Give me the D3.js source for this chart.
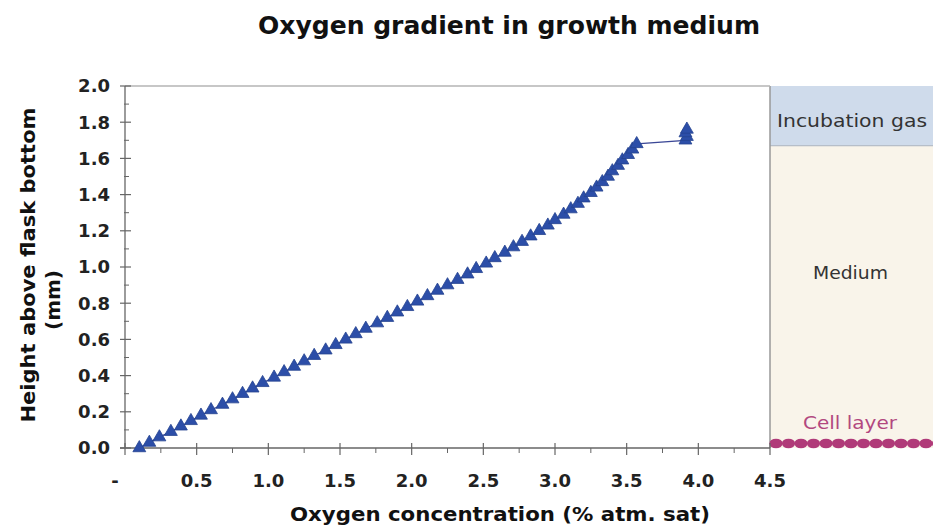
<!DOCTYPE html>
<html>
<head>
<meta charset="utf-8">
<script src="https://cdn.jsdelivr.net/npm/d3@7"></script>
<style>
  body { margin: 0; background: #fff; }
  svg text { font-family: "DejaVu Sans", Verdana, sans-serif; }
</style>
</head>
<body>
<svg id="chart" width="933" height="529"></svg>
<script>
// heights above flask bottom (mm) and oxygen (% atm. sat)
var heights = [0.00, 0.03, 0.06, 0.09, 0.12, 0.15, 0.18, 0.21, 0.24, 0.27,
  0.30, 0.33, 0.36, 0.39, 0.42, 0.45, 0.48, 0.51, 0.54, 0.57,
  0.60, 0.63, 0.66, 0.69, 0.72, 0.75, 0.78, 0.81, 0.84, 0.87,
  0.90, 0.93, 0.96, 0.99, 1.02, 1.05, 1.08, 1.11, 1.14, 1.17,
  1.20, 1.23, 1.26, 1.29, 1.32, 1.35, 1.38, 1.41, 1.44, 1.47,
  1.50, 1.53, 1.56, 1.59, 1.62, 1.65, 1.68,
  1.70, 1.72, 1.74, 1.76];
var oxygen = [0.10, 0.17, 0.24, 0.32, 0.39, 0.46, 0.53, 0.60, 0.68, 0.75,
  0.82, 0.89, 0.96, 1.04, 1.11, 1.18, 1.25, 1.32, 1.40, 1.47,
  1.54, 1.61, 1.68, 1.76, 1.83, 1.90, 1.97, 2.04, 2.11, 2.18,
  2.25, 2.32, 2.39, 2.45, 2.52, 2.58, 2.65, 2.71, 2.77, 2.83,
  2.89, 2.95, 3.00, 3.06, 3.11, 3.16, 3.20, 3.25, 3.29, 3.33,
  3.37, 3.40, 3.44, 3.47, 3.51, 3.54, 3.57,
  3.91, 3.92, 3.91, 3.92];

var xTicks = [0, 0.5, 1.0, 1.5, 2.0, 2.5, 3.0, 3.5, 4.0, 4.5];
var xMinor = [0.25, 0.75, 1.25, 1.75, 2.25, 2.75, 3.25, 3.75, 4.25];
var yTicks = [0, 0.2, 0.4, 0.6, 0.8, 1.0, 1.2, 1.4, 1.6, 1.8, 2.0];
var yMinor = [0.1, 0.3, 0.5, 0.7, 0.9, 1.1, 1.3, 1.5, 1.7, 1.9];

var mediumTop = 1.67; // surface of the medium (mm)
var zones = ["Incubation gas", "Medium", "Cell layer"];

var W = 933, H = 529;
var svg = d3.select("#chart");

var x = d3.scaleLinear().domain([0, 4.5]).range([125, 770]);
var y = d3.scaleLinear().domain([0, 2]).range([448, 86]);

svg.append("rect").attr("width", W).attr("height", H).attr("fill", "#fff");

//============ right hand panel ============
var px0 = x(4.5);
svg.append("rect")
  .attr("x", px0).attr("y", y(2)).attr("width", W - px0).attr("height", y(mediumTop) - y(2))
  .attr("fill", "#cfdbeb");
svg.append("rect")
  .attr("x", px0).attr("y", y(mediumTop)).attr("width", W - px0).attr("height", y(0) - y(mediumTop))
  .attr("fill", "#f9f4ea");
svg.append("line")
  .attr("x1", px0).attr("x2", W).attr("y1", y(mediumTop)).attr("y2", y(mediumTop))
  .attr("stroke", "#a9b3bf").attr("stroke-width", 1);
svg.append("line")
  .attr("x1", px0).attr("x2", px0).attr("y1", y(2)).attr("y2", y(0))
  .attr("stroke", "#999").attr("stroke-width", 1.5);

// cells sitting on the bottom
svg.append("g").selectAll("ellipse")
  .data(d3.range(px0 + 6, W + 8, 12.5))
  .join("ellipse")
  .attr("cx", d => d).attr("cy", y(0) - 4.5).attr("rx", 6.6).attr("ry", 4.8)
  .attr("fill", "#b03a79");

svg.append("text").text(zones[0])
  .attr("x", 777).attr("y", 127).attr("font-size", 17).attr("fill", "#333")
  .attr("textLength", 150).attr("lengthAdjust", "spacingAndGlyphs");
svg.append("text").text(zones[1])
  .attr("x", 813).attr("y", 279).attr("font-size", 17).attr("fill", "#333")
  .attr("textLength", 75).attr("lengthAdjust", "spacingAndGlyphs");
svg.append("text").text(zones[2])
  .attr("x", 803).attr("y", 429).attr("font-size", 17).attr("fill", "#b2487f")
  .attr("textLength", 94).attr("lengthAdjust", "spacingAndGlyphs");

//============ axes ============
svg.append("line") // top border
  .attr("x1", x(0)).attr("x2", x(4.5)).attr("y1", y(2)).attr("y2", y(2))
  .attr("stroke", "#b5b5b5").attr("stroke-width", 1.5);
svg.append("line")
  .attr("x1", x(0)).attr("x2", x(0)).attr("y1", y(2)).attr("y2", y(0))
  .attr("stroke", "#666").attr("stroke-width", 1.3);
svg.append("line")
  .attr("x1", x(0) - 5).attr("x2", x(4.5)).attr("y1", y(0)).attr("y2", y(0))
  .attr("stroke", "#666").attr("stroke-width", 1.3);

var tickCol = "#666";
svg.append("g").selectAll("line").data(yTicks).join("line")
  .attr("x1", x(0) - 5).attr("x2", x(0) + 6)
  .attr("y1", d => y(d)).attr("y2", d => y(d))
  .attr("stroke", tickCol).attr("stroke-width", 1.2);
svg.append("g").selectAll("line").data(yMinor).join("line")
  .attr("x1", x(0) - 1).attr("x2", x(0) + 4)
  .attr("y1", d => y(d)).attr("y2", d => y(d))
  .attr("stroke", tickCol).attr("stroke-width", 1);
svg.append("g").selectAll("line").data(xTicks).join("line")
  .attr("x1", d => x(d)).attr("x2", d => x(d))
  .attr("y1", y(0) - 5).attr("y2", y(0) + 7)
  .attr("stroke", tickCol).attr("stroke-width", 1.2);
svg.append("g").selectAll("line").data(xMinor).join("line")
  .attr("x1", d => x(d)).attr("x2", d => x(d))
  .attr("y1", y(0)).attr("y2", y(0) + 5)
  .attr("stroke", tickCol).attr("stroke-width", 1);

svg.append("g").selectAll("text").data(yTicks).join("text")
  .attr("x", x(0) - 15).attr("y", d => y(d)).attr("dy", "0.36em")
  .attr("text-anchor", "end").attr("font-size", 18).attr("font-weight", "bold").attr("fill", "#222")
  .text(d => d3.format(".1f")(d));
svg.append("g").selectAll("text").data(xTicks).join("text")
  .attr("x", d => d == 0 ? x(d) - 10 : x(d)).attr("y", 487)
  .attr("text-anchor", "middle").attr("font-size", 18).attr("font-weight", "bold").attr("fill", "#222")
  .text(d => d == 0 ? "-" : d3.format(".1f")(d));

//============ titles ============
svg.append("text").text("Oxygen gradient in growth medium")
  .attr("x", 258).attr("y", 34).attr("font-size", 24).attr("font-weight", "bold").attr("fill", "#111")
  .attr("textLength", 502).attr("lengthAdjust", "spacingAndGlyphs");
svg.append("text").text("Oxygen concentration (% atm. sat)")
  .attr("x", 290).attr("y", 521).attr("font-size", 20).attr("font-weight", "bold").attr("fill", "#111")
  .attr("textLength", 420).attr("lengthAdjust", "spacingAndGlyphs");
svg.append("text").text("Height above flask bottom")
  .attr("transform", "translate(35,265) rotate(-90)")
  .attr("text-anchor", "middle").attr("font-size", 20).attr("font-weight", "bold").attr("fill", "#111")
  .attr("textLength", 315).attr("lengthAdjust", "spacingAndGlyphs");
svg.append("text").text("(mm)")
  .attr("transform", "translate(60,300) rotate(-90)")
  .attr("text-anchor", "middle").attr("font-size", 20).attr("font-weight", "bold").attr("fill", "#111");

//============ profile ============
var pts = heights.map((h, i) => [oxygen[i], h]);
var line = d3.line().x(d => x(d[0])).y(d => y(d[1]));
svg.append("path").datum(pts)
  .attr("d", line).attr("fill", "none")
  .attr("stroke", "#3a4796").attr("stroke-width", 1.3);

var tri = d3.symbol().type(d3.symbolTriangle).size(72);
svg.append("g").selectAll("path").data(pts).join("path")
  .attr("d", tri)
  .attr("transform", d => "translate(" + x(d[0]) + "," + y(d[1]) + ")")
  .attr("fill", "#2c4ea8").attr("stroke", "#24428f").attr("stroke-width", 0.8);
</script>
</body>
</html>
